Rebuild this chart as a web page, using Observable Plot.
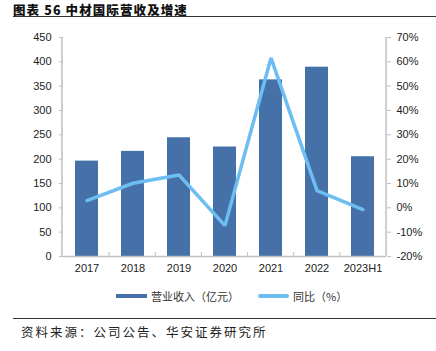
<!DOCTYPE html>
<html><head><meta charset="utf-8">
<script src="https://cdn.jsdelivr.net/npm/d3@7"></script>
<script src="https://cdn.jsdelivr.net/npm/@observablehq/plot@0.6"></script>
<style>
body{margin:0;background:#fff;}
#wrap{position:relative;width:436px;height:351px;overflow:hidden;font-family:"Liberation Sans",Arial,sans-serif;}
#title{position:absolute;left:13px;top:0px;font-family:"Noto Sans CJK SC",sans-serif;font-weight:900;font-size:12.5px;line-height:normal;color:#111;letter-spacing:1.1px;}
#tline{position:absolute;left:13px;right:0;top:16px;height:0;border-top:1.3px solid #333;}
#chart{position:absolute;left:0;top:20px;}
#legend{position:absolute;top:288px;left:0;width:436px;font-family:"Noto Sans CJK SC",sans-serif;font-size:11px;color:#333;}
.lg{position:absolute;display:flex;align-items:center;}
#cline{position:absolute;left:13px;right:0;top:318px;border-top:1.3px solid #333;}
#caption{position:absolute;left:21px;top:322px;font-family:"Noto Sans CJK SC",sans-serif;font-size:12.5px;color:#222;letter-spacing:2px;}
</style></head>
<body><div id="wrap">
<div id="title">图表 56 中材国际营收及增速</div>
<div id="tline"></div>
<div id="chart"></div>
<div id="legend"></div>
<div id="cline"></div>
<div id="caption">资料来源：公司公告、华安证券研究所</div>
</div>
<script>
const categories = ["2017","2018","2019","2020","2021","2022","2023H1"];
const revenue = [196, 216, 244, 225, 363, 389, 205];
const growth = [3.0, 10.1, 13.5, -7.3, 61.6, 7.1, -0.7];
const leftTicks = [0,50,100,150,200,250,300,350,400,450];
const rightTicks = [-20,-10,0,10,20,30,40,50,60,70];
const seriesNames = ["营业收入（亿元）","同比（%）"];
const barColor = "#4570A8";
const lineColor = "#6CBEF2";

// map percent onto left scale domain: -20%..70% -> 0..450
const pctToY = p => (p + 20) * 5;
const yToPct = v => Math.round(v / 5 - 20);

const rows = categories.map((c,i)=>({cat:c, rev:revenue[i], g:growth[i], gy:pctToY(growth[i])}));

const chart = Plot.plot({
  width: 436, height: 260,
  marginTop: 17, marginBottom: 24, marginLeft: 63, marginRight: 50,
  x: {domain: categories, paddingInner: 0.5, paddingOuter: 0.25, align: 0.5, label: null},
  y: {domain: [0, 450], label: null},
  style: {fontFamily: '"Liberation Sans", Arial, sans-serif', fontSize: "11px", color: "#222", background: "#fff"},
  marks: [
    Plot.barY(rows, {x: "cat", y: "rev", fill: barColor}),
    Plot.ruleY([0], {stroke: "#bfbfbf", strokeWidth: 1.5}),
    Plot.lineY(rows, {x: "cat", y: "gy", stroke: lineColor, strokeWidth: 3.5, strokeLinejoin: "miter"}),
    Plot.axisY({anchor: "left", ticks: leftTicks, tickSize: 4, tickPadding: 8, stroke: "#bfbfbf", label: null, fontSize: 11}),
    Plot.axisY({anchor: "right", ticks: rightTicks.map(pctToY), tickFormat: d => yToPct(d) + "%", tickSize: 4, tickPadding: 6, stroke: "#bfbfbf", label: null, fontSize: 11}),
    Plot.axisX({tickSize: 0, tickPadding: 8, label: null, fontSize: 11})
  ]
});
document.getElementById("chart").appendChild(chart);

// vertical axis lines and category boundary ticks
const svg = d3.select(chart);
svg.append("line").attr("x1",62).attr("x2",62).attr("y1",17).attr("y2",236).attr("stroke","#bfbfbf").attr("stroke-width",1.5);
svg.append("line").attr("x1",386).attr("x2",386).attr("y1",17).attr("y2",236).attr("stroke","#bfbfbf").attr("stroke-width",1.5);
const bw = (386-63)/categories.length;
for (let i=1;i<categories.length;i++){
  svg.append("line").attr("x1",63+i*bw).attr("x2",63+i*bw).attr("y1",236).attr("y2",232).attr("stroke","#bfbfbf").attr("stroke-width",1);
}

// legend
const lg = document.getElementById("legend");
lg.innerHTML = `
<div class="lg" style="left:116px;top:0px"><span style="display:inline-block;width:31px;height:4px;background:${barColor};margin-right:4px"></span>${seriesNames[0]}</div>
<div class="lg" style="left:258px;top:0px"><span style="display:inline-block;width:31px;height:4px;border-radius:2px;background:${lineColor};margin-right:4px"></span>${seriesNames[1]}</div>`;
</script>
</body></html>
